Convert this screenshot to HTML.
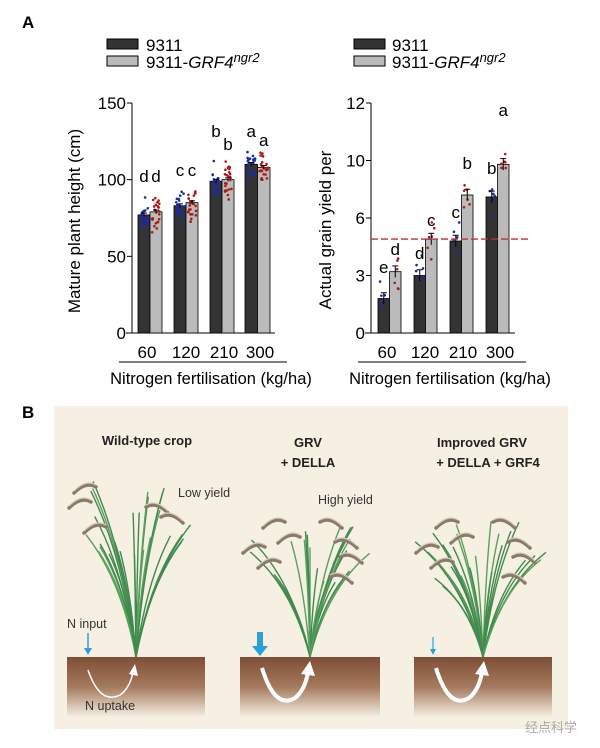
<!DOCTYPE html>
<html><head><meta charset="utf-8"><style>
body{margin:0;background:#fff;width:600px;height:748px;overflow:hidden}
svg{display:block}
text{font-family:"Liberation Sans",Arial,sans-serif}
</style></head><body>
<svg id="s" width="600" height="748" viewBox="0 0 600 748" xmlns="http://www.w3.org/2000/svg">
<defs>
<linearGradient id="soil" x1="0" y1="0" x2="0" y2="1">
<stop offset="0" stop-color="#7e4e35"/><stop offset="0.5" stop-color="#a57a5f"/><stop offset="1" stop-color="#f5efe2"/>
</linearGradient>
</defs>
<text x="22" y="28" font-size="17" font-weight="bold">A</text>
<rect x="107" y="39" width="31" height="10" fill="#333" stroke="#000"/>
<rect x="107" y="56" width="31" height="10" fill="#bbb" stroke="#000"/>
<text x="146" y="51" font-size="17">9311</text>
<text x="146" y="68" font-size="17">9311-<tspan font-style="italic">GRF4</tspan><tspan font-style="italic" font-size="13" dy="-6">ngr2</tspan></text>
<rect x="354" y="39" width="31" height="10" fill="#333" stroke="#000"/>
<rect x="354" y="56" width="31" height="10" fill="#bbb" stroke="#000"/>
<text x="392" y="51" font-size="17">9311</text>
<text x="392" y="68" font-size="17">9311-<tspan font-style="italic">GRF4</tspan><tspan font-style="italic" font-size="13" dy="-6">ngr2</tspan></text>
<g id="charts"></g>
<text x="22" y="418" font-size="17" font-weight="bold">B</text>
<rect x="54" y="406" width="514" height="323" fill="#f6f0e2"/>
<rect x="67" y="657" width="138" height="60" fill="url(#soil)"/>
<rect x="240" y="657" width="140" height="60" fill="url(#soil)"/>
<rect x="414" y="657" width="138" height="60" fill="url(#soil)"/>
<g font-weight="bold" font-size="13" text-anchor="middle" fill="#222">
<text x="147" y="445">Wild-type crop</text>
<text x="308" y="447">GRV</text><text x="308" y="467">+ DELLA</text>
<text x="482" y="447">Improved GRV</text><text x="488" y="467">+ DELLA + GRF4</text>
</g>
<g font-size="12.5" fill="#333">
<text x="178" y="497">Low yield</text>
<text x="318" y="504">High yield</text>
<text x="67" y="628">N input</text>
<text x="85" y="710">N uptake</text>
</g>
<text x="525" y="732" font-size="13" fill="#aaa" font-family="'Noto Sans CJK SC',sans-serif">经点科学</text>
<g id="plants"></g>
<line x1="88" y1="633" x2="88" y2="652" stroke="#2aa0d8" stroke-width="1.5"/><path d="M84 648 L88 655 L92 648Z" fill="#2aa0d8"/>
<rect x="257" y="632" width="6" height="15" fill="#2aa0d8"/><path d="M252 646 L260 656 L268 646Z" fill="#2aa0d8"/>
<line x1="433" y1="637" x2="433" y2="652" stroke="#2aa0d8" stroke-width="1.2"/><path d="M430 649 L433 655 L436 649Z" fill="#2aa0d8"/>
<path d="M88 670 Q100 705 120 695 Q130 688 133 672" fill="none" stroke="#fff" stroke-width="1.5"/><path d="M129 674 L135 664 L138 676Z" fill="#fff"/>
<path d="M262 668 Q275 710 295 698 Q305 690 308 672" fill="none" stroke="#fff" stroke-width="4"/><path d="M301 674 L310 661 L315 676Z" fill="#fff"/>
<path d="M436 668 Q449 710 469 698 Q479 690 482 672" fill="none" stroke="#fff" stroke-width="4"/><path d="M475 674 L484 661 L489 676Z" fill="#fff"/>
</svg>
<script>
var NS="http://www.w3.org/2000/svg",g=document.getElementById('charts');
function el(t,a,p,txt){var e=document.createElementNS(NS,t);for(var k in a)e.setAttribute(k,a[k]);if(txt!==undefined)e.textContent=txt;(p||g).appendChild(e);return e;}
var seed=7;function r(){seed=(seed*9301+49297)%233280;return seed/233280;}
function chart(o){
 var y=function(v){return 333-(v-o.min)/(o.max-o.min)*230;};
 el('line',{x1:o.ax,y1:103,x2:o.ax,y2:333,stroke:'#000'});
 el('line',{x1:o.ax-6,y1:333,x2:o.xe,y2:333,stroke:'#000'});
 o.ticks.forEach(function(t,i){var yy=333-(333-103)*i/(o.ticks.length-1);
  el('line',{x1:o.ax-5,y1:yy,x2:o.ax,y2:yy,stroke:'#000'});
  el('text',{x:o.ax-6,y:yy+6,'font-size':17,'text-anchor':'end'},null,t);});
 o.bars.forEach(function(b,i){
  [[b[0],'#333',b[2],'#1a2aa8',b[4]],[b[1],'#bbb',b[3],'#b01818',b[5]]].forEach(function(s,j){
   var x=b[6]+j*b[7],w=b[7],top=y(s[2]);
   el('rect',{x:x,y:top,width:w,height:333-top,fill:s[1],stroke:'#000','stroke-width':0.8});
   for(var k=0;k<o.n;k++){var v=s[2]+(r()+r()+r()-1.5)*o.sp;el('circle',{cx:x+2+r()*(w-4),cy:y(v),r:1.3,fill:s[3]});}
   el('line',{x1:x+w/2,y1:y(s[2]+o.err),x2:x+w/2,y2:y(s[2]-o.err),stroke:'#000'});
   el('line',{x1:x+w/2-3,y1:y(s[2]+o.err),x2:x+w/2+3,y2:y(s[2]+o.err),stroke:'#000'});
   el('text',{x:x+w/2,y:s[4],'font-size':17,'text-anchor':'middle'},null,s[0]);
  });
 });
 o.lab.forEach(function(l){el('text',{x:l[1],y:358,'font-size':17,'text-anchor':'middle'},null,l[0]);});
 el('line',{x1:o.ul[0],y1:362,x2:o.ul[1],y2:362,stroke:'#000'});
 el('text',{x:o.xc,y:384,'font-size':16.5,'text-anchor':'middle'},null,'Nitrogen fertilisation (kg/ha)');
 el('text',{x:o.yx,y:o.yc,'font-size':17,'text-anchor':'middle',transform:'rotate(-90 '+o.yx+' '+o.yc+')'},null,o.yl);
 if(o.dash)el('line',{x1:o.ax,y1:y(4.9),x2:528,y2:y(4.9),stroke:'#c03030','stroke-width':1.3,'stroke-dasharray':'7,3'});
}
chart({ax:132,xe:275,min:0,max:150,ticks:['0','50','100','150'],n:24,sp:11,err:1.2,
 bars:[['d','d',77,79,182,182,138,12],['c','c',83,85,176,176,174,12],['b','b',99,100,137,150,210,12],['a','a',110,108,137,146,245,12.5]],
 lab:[['60',147],['120',186],['210',224],['300',260]],ul:[119,287],xc:211,yx:80,yc:221,yl:'Mature plant height (cm)'});
chart({ax:371,xe:515,min:0,max:12,ticks:['0','3','6','10','12'],n:6,sp:1.0,err:0.3,dash:true,
 bars:[['e','d',1.8,3.2,273,255],['d','c',3.0,4.9,259,226],['c','b',4.8,7.2,218,169],['b','a',7.1,8.8,174,116]].map(function(b,i){return b.concat([378+i*36,11.5]);}),
 lab:[['60',387],['120',425],['210',463],['300',500]],ul:[358,526],xc:450,yx:331,yc:230,yl:'Actual grain yield per'});
var pg=document.getElementById('plants');
function plant(bx,by,h,spread,pan){
 for(var i=0;i<26;i++){var a=(r()-0.5)*spread,len=h*(0.55+r()*0.45),ex=bx+a*len,ey=by-len*Math.cos(a*0.9);
  var cx=bx+a*len*0.3,cy=by-len*0.6;
  el('path',{d:'M'+bx+' '+by+' Q'+cx+' '+cy+' '+ex+' '+ey,fill:'none',stroke:(i%3?'#3f8a4f':'#5aa060'),'stroke-width':1.4},pg);}
 pan.forEach(function(p){var x=bx+p[0],yy=by-p[1],d=p[2];
  el('path',{d:'M'+x+' '+yy+' q'+(d*10)+' -6 '+(d*22)+' 6',fill:'none',stroke:'#8a7a6a','stroke-width':3.5,'stroke-linecap':'round'},pg);
  el('path',{d:'M'+x+' '+(yy-2)+' q'+(d*10)+' -6 '+(d*22)+' 6',fill:'none',stroke:'#d8cabb','stroke-width':1.2},pg);});
}
plant(136,657,185,0.8,[[-40,170,-1],[-45,155,-1],[10,150,1],[25,140,1],[-30,130,-1]]);
plant(310,657,140,1.1,[[-25,135,-1],[10,135,1],[25,115,1],[-45,110,-1],[-30,95,-1],[30,100,1],[-10,120,-1],[20,80,1]]);
plant(483,657,140,1.1,[[-25,135,-1],[10,135,1],[25,115,1],[-45,110,-1],[-30,95,-1],[30,100,1],[-10,120,-1],[20,80,1]]);
</script>
</body></html>
